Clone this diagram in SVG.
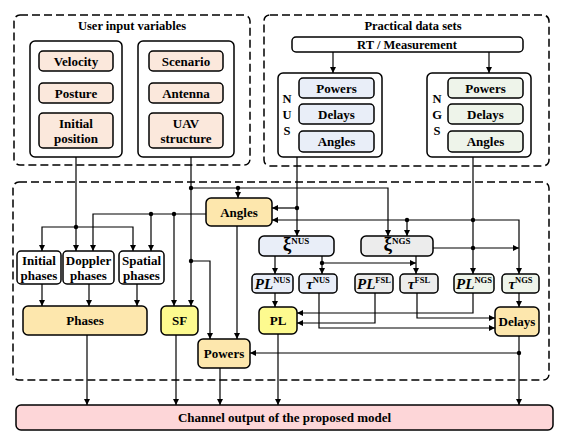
<svg xmlns="http://www.w3.org/2000/svg" width="566" height="436" viewBox="0 0 566 436" font-family="'Liberation Serif', 'Times New Roman', Times, serif">
<defs>
<marker id="ah" markerWidth="6" markerHeight="6" refX="6" refY="3" orient="auto" markerUnits="userSpaceOnUse">
<path d="M0,0 L6,3 L0,6 z" fill="#000"/>
</marker>
<style>
.dash{fill:none;stroke:#000;stroke-width:1.5;stroke-dasharray:8,4}
.box{stroke:#000;stroke-width:1.5}
.w{fill:#fff}
.peach{fill:#fbe8dc}
.blue{fill:#e9eef8}
.green{fill:#eef4ea}
.gray{fill:#ececec}
.tan{fill:#fde7ad}
.yel{fill:#fdfa8f}
.pink{fill:#fdd6d8}
text{font-family:'Liberation Serif','Times New Roman',Times,serif;font-weight:bold;font-size:12.5px;fill:#000;text-anchor:middle}
.t{font-size:13px}
.c path{fill:none;stroke:#000;stroke-width:1.2}
.c path.a{marker-end:url(#ah)}
.c circle{fill:#000}
</style>
</defs>
<rect width="566" height="436" fill="#fff"/>

<g id="user-input">
<rect class="dash" x="14" y="15" width="236" height="150" rx="6"/>
<text x="132" y="30">User input variables</text>
<rect class="box w" x="30" y="41" width="92" height="116" rx="5"/>
<rect class="box w" x="138" y="41" width="96" height="116" rx="5"/>
</g>
<g id="velocity"><rect class="box peach" x="39" y="51" width="74" height="20" rx="4"/><text class="t" x="76" y="65.5">Velocity</text></g>
<g id="posture"><rect class="box peach" x="39" y="83" width="74" height="20" rx="4"/><text class="t" x="76" y="97.5">Posture</text></g>
<g id="initial-position"><rect class="box peach" x="39" y="113" width="74" height="35" rx="4"/><text class="t" x="76" y="127.5">Initial</text><text class="t" x="76" y="142.5">position</text></g>
<g id="scenario"><rect class="box peach" x="149" y="51" width="74" height="20" rx="4"/><text class="t" x="186" y="65.5">Scenario</text></g>
<g id="antenna"><rect class="box peach" x="149" y="83" width="74" height="20" rx="4"/><text class="t" x="186" y="97.5">Antenna</text></g>
<g id="uav-structure"><rect class="box peach" x="149" y="113" width="74" height="35" rx="4"/><text class="t" x="186" y="127.5">UAV</text><text class="t" x="186" y="142.5">structure</text></g>

<g id="practical">
<rect class="dash" x="264" y="15" width="285" height="151" rx="6"/>
<text x="413" y="30">Practical data sets</text>
</g>
<g id="rt"><rect class="box w" x="292" y="37" width="231" height="15" rx="4"/><text x="407" y="48.5">RT / Measurement</text></g>
<g id="nus">
<rect class="box w" x="278" y="73" width="104" height="84" rx="5"/>
<text x="287" y="103">N</text><text x="287" y="119">U</text><text x="287" y="135">S</text>
<rect class="box blue" x="299" y="78" width="75" height="20" rx="4"/><text class="t" x="336.5" y="92.5">Powers</text>
<rect class="box blue" x="299" y="104" width="75" height="20" rx="4"/><text class="t" x="336.5" y="118.5">Delays</text>
<rect class="box blue" x="299" y="131" width="75" height="21" rx="4"/><text class="t" x="336.5" y="146">Angles</text>
</g>
<g id="ngs">
<rect class="box w" x="427" y="73" width="104" height="84" rx="5"/>
<text x="437" y="103">N</text><text x="437" y="119">G</text><text x="437" y="135">S</text>
<rect class="box green" x="448" y="78" width="75" height="20" rx="4"/><text class="t" x="485.5" y="92.5">Powers</text>
<rect class="box green" x="448" y="104" width="75" height="20" rx="4"/><text class="t" x="485.5" y="118.5">Delays</text>
<rect class="box green" x="448" y="131" width="75" height="21" rx="4"/><text class="t" x="485.5" y="146">Angles</text>
</g>

<g id="model"><rect class="dash" x="13" y="182" width="536" height="198" rx="6"/></g>

<g id="angles"><rect class="box tan" x="206" y="198" width="66" height="28" rx="5"/><text class="t" x="239" y="216.5">Angles</text></g>
<g id="xi-nus"><rect class="box blue" x="259" y="236" width="75" height="20" rx="5"/><text x="296" y="250"><tspan font-size="19">ξ</tspan><tspan font-size="9" dy="-6">NUS</tspan></text></g>
<g id="xi-ngs"><rect class="box gray" x="361" y="236" width="72" height="20" rx="5"/><text x="397" y="250"><tspan font-size="19">ξ</tspan><tspan font-size="9" dy="-6">NGS</tspan></text></g>

<g id="pl-nus"><rect class="box blue" x="252" y="274" width="41" height="19" rx="4"/><text x="272.5" y="289"><tspan font-size="15" font-style="italic">PL</tspan><tspan font-size="8.5" dy="-6">NUS</tspan></text></g>
<g id="tau-nus"><rect class="box blue" x="299" y="274" width="38" height="19" rx="4"/><text x="318" y="289"><tspan font-size="15" font-style="italic">τ</tspan><tspan font-size="8.5" dy="-6">NUS</tspan></text></g>
<g id="pl-fsl"><rect class="box gray" x="355" y="274" width="38" height="19" rx="4"/><text x="374" y="289"><tspan font-size="15" font-style="italic">PL</tspan><tspan font-size="8.5" dy="-6">FSL</tspan></text></g>
<g id="tau-fsl"><rect class="box gray" x="400" y="274" width="38" height="19" rx="4"/><text x="419" y="289"><tspan font-size="15" font-style="italic">τ</tspan><tspan font-size="8.5" dy="-6">FSL</tspan></text></g>
<g id="pl-ngs"><rect class="box green" x="454" y="274" width="40" height="19" rx="4"/><text x="474" y="289"><tspan font-size="15" font-style="italic">PL</tspan><tspan font-size="8.5" dy="-6">NGS</tspan></text></g>
<g id="tau-ngs"><rect class="box green" x="502" y="274" width="37" height="19" rx="4"/><text x="520.5" y="289"><tspan font-size="15" font-style="italic">τ</tspan><tspan font-size="8.5" dy="-6">NGS</tspan></text></g>

<g id="initial-phases"><rect class="box w" x="17" y="251" width="44" height="33" rx="4"/><text class="t" x="39" y="265">Initial</text><text class="t" x="39" y="280">phases</text></g>
<g id="doppler-phases"><rect class="box w" x="63" y="251" width="51" height="33" rx="4"/><text class="t" x="88.5" y="265">Doppler</text><text class="t" x="88.5" y="280">phases</text></g>
<g id="spatial-phases"><rect class="box w" x="119" y="251" width="45" height="33" rx="4"/><text class="t" x="141.5" y="265">Spatial</text><text class="t" x="141.5" y="280">phases</text></g>

<g id="phases"><rect class="box tan" x="23" y="306" width="124" height="29" rx="5"/><text class="t" x="85" y="325">Phases</text></g>
<g id="sf"><rect class="box yel" x="161" y="306" width="37" height="29" rx="5"/><text class="t" x="179.5" y="325">SF</text></g>
<g id="pl"><rect class="box yel" x="259" y="307" width="38" height="27" rx="5"/><text class="t" x="278" y="325">PL</text></g>
<g id="delays"><rect class="box tan" x="495" y="307" width="44" height="29" rx="5"/><text class="t" x="517" y="326">Delays</text></g>
<g id="powers"><rect class="box tan" x="198" y="339" width="52" height="29" rx="5"/><text class="t" x="224" y="358">Powers</text></g>

<g id="channel-output"><rect class="box pink" x="16" y="405" width="537" height="25" rx="5"/><text class="t" x="284.5" y="422">Channel output of the proposed model</text></g>

<g id="connectors" class="c">
<path class="a" d="M333,52 V73"/>
<path class="a" d="M489,52 V73"/>
<path class="a" d="M76,157 V251"/>
<path class="a" d="M76,227 H42 V251"/>
<path class="a" d="M76,227 H133 V251"/>
<path class="a" d="M206,214 H93 V251"/>
<path class="a" d="M151,214 V251"/>
<path class="a" d="M174,214 V306"/>
<path class="a" d="M191,157 V306"/>
<path class="a" d="M191,188 H388 V236"/>
<path class="a" d="M238,188 V198"/>
<path class="a" d="M191,261 H210 V339"/>
<path class="a" d="M297,157 V236"/>
<path class="a" d="M297,208 H272"/>
<path class="a" d="M473,157 V274"/>
<path class="a" d="M473,220 H272"/>
<path class="a" d="M473,220 H519 V274"/>
<path class="a" d="M407,220 V236"/>
<path class="a" d="M433,248 H519"/>
<path class="a" d="M416,256 V274"/>
<path class="a" d="M275,256 V274"/>
<path class="a" d="M322,256 V274"/>
<path class="a" d="M322,263 H416"/>
<path class="a" d="M275,293 V307"/>
<path class="a" d="M473,293 V313 H297"/>
<path class="a" d="M375,293 V323 H297"/>
<path class="a" d="M319,293 V328 H495"/>
<path class="a" d="M417,293 V318 H495"/>
<path class="a" d="M519,293 V307"/>
<path class="a" d="M519,336 V405"/>
<path class="a" d="M519,353 H250"/>
<path class="a" d="M237,226 V339"/>
<path class="a" d="M42,284 V306"/>
<path class="a" d="M89,284 V306"/>
<path class="a" d="M137,284 V306"/>
<path class="a" d="M87,335 V405"/>
<path class="a" d="M176,335 V405"/>
<path class="a" d="M220,368 V405"/>
<path class="a" d="M278,334 V405"/>
<circle cx="76" cy="227" r="2.2"/>
<circle cx="151" cy="214" r="2.2"/>
<circle cx="174" cy="214" r="2.2"/>
<circle cx="191" cy="188" r="2.2"/>
<circle cx="238" cy="188" r="2.2"/>
<circle cx="191" cy="261" r="2.2"/>
<circle cx="297" cy="208" r="2.2"/>
<circle cx="473" cy="220" r="2.2"/>
<circle cx="407" cy="220" r="2.2"/>
<circle cx="473" cy="248" r="2.2"/>
<circle cx="322" cy="263" r="2.2"/>
<circle cx="519" cy="353" r="2.2"/>
</g>
</svg>
